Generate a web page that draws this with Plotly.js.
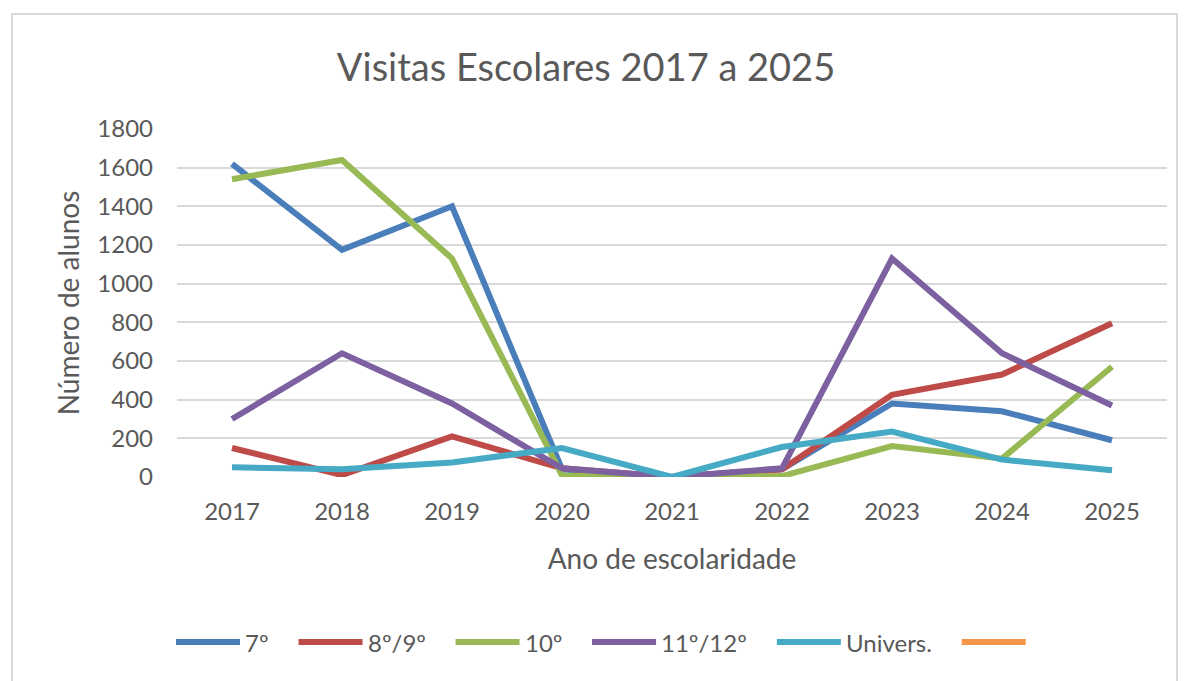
<!DOCTYPE html>
<html><head><meta charset="utf-8">
<script src="https://cdn.plot.ly/plotly-3.0.1.min.js"></script>
<style>html,body{margin:0;padding:0;background:#fff;}#frame{position:absolute;left:11px;top:13px;width:1163px;height:700px;border:2px solid #d9d9d9;pointer-events:none;}#chart{position:absolute;left:0;top:0;width:1188px;height:681px;}</style>
</head><body>
<div id="chart"></div><div id="frame"></div>
<script>
const years = ['2017','2018','2019','2020','2021','2022','2023','2024','2025'];
const s7 = [1620, 1175, 1400, 40, 0, 40, 380, 340, 190];
const s89 = [150, 10, 210, 45, 0, 40, 425, 530, 795];
const s10 = [1540, 1640, 1130, 8, 0, 5, 160, 95, 570];
const s1112 = [300, 640, 380, 45, 0, 45, 1130, 640, 370];
const sUniv = [50, 40, 75, 150, 0, 155, 235, 90, 35];
const sEmpty = [null, null, null, null, null, null, null, null, null];
const names = ['7º', '8º/9º', '10º', '11º/12º', 'Univers.', ''];
const colors = ['#4A7EBB', '#BE4B48', '#98B954', '#7D60A0', '#46AAC5', '#F79646'];
const series = [s7, s89, s10, s1112, sUniv, sEmpty];
const font = 'Lato, "Open Sans", sans-serif';
const textColor = '#595959';

const W = 1188, H = 681;
const M = {l: 177, r: 21, t: 129, b: 204};
const PW = W - M.l - M.r, PH = H - M.t - M.b;
const px2x = px => (px - M.l) / PW;
const py2y = py => (H - M.b - py) / PH;

const traces = series.map((v, i) => ({
  type: 'scatter', mode: 'lines', x: years, y: v, name: names[i] || ' ',
  line: {color: colors[i], width: 6}, showlegend: false
}));

// legend built from names/colors
const legendFontSize = 24;
const ctx = document.createElement('canvas').getContext('2d');
ctx.font = legendFontSize + 'px Lato';
const shapes = [], annotations = [];
let cx = 176;
const legendY = 642, symLen = 64, symGap = 4, itemGap = 31;
names.forEach((n, i) => {
  shapes.push({type: 'line', xref: 'paper', yref: 'paper', x0: px2x(cx), x1: px2x(cx + symLen),
    y0: py2y(legendY), y1: py2y(legendY), line: {color: colors[i], width: 6}});
  cx += symLen + symGap;
  if (n) {
    annotations.push({xref: 'paper', yref: 'paper', x: px2x(cx), y: py2y(legendY), xanchor: 'left', yanchor: 'middle',
      text: n, showarrow: false, borderpad: 0, font: {size: legendFontSize, color: textColor, family: font}});
    cx += ctx.measureText(n).width;
  }
  cx += itemGap;
});

const layout = {
  width: W, height: H, margin: M,
  paper_bgcolor: 'rgba(0,0,0,0)', plot_bgcolor: 'rgba(0,0,0,0)',
  font: {family: font, color: textColor},
  title: {text: 'Visitas Escolares 2017 a 2025', font: {size: 38, color: textColor, family: font}, x: 586 / W, xref: 'container', xanchor: 'center', y: 1 - 68 / H, yref: 'container', yanchor: 'middle'},
  xaxis: {type: 'category', range: [-0.5, 8.5], showgrid: false, zeroline: false, showline: false, ticks: '',
    tickfont: {size: 24, color: textColor}, ticklabelstandoff: 18,
    title: {text: 'Ano de escolaridade', font: {size: 28, color: textColor}, standoff: 25}, automargin: true},
  yaxis: {range: [0, 1800], dtick: 200, showgrid: true, gridcolor: '#d9d9d9', gridwidth: 2, zeroline: false, showline: false, ticks: '',
    tickfont: {size: 24, color: textColor}, ticklabelstandoff: 23,
    title: {text: 'Número de alunos', font: {size: 28, color: textColor}, standoff: 9}, automargin: true},
  showlegend: false,
  shapes: shapes, annotations: annotations
};
Plotly.newPlot('chart', traces, layout, {displayModeBar: false, staticPlot: true});
</script>
</body></html>
